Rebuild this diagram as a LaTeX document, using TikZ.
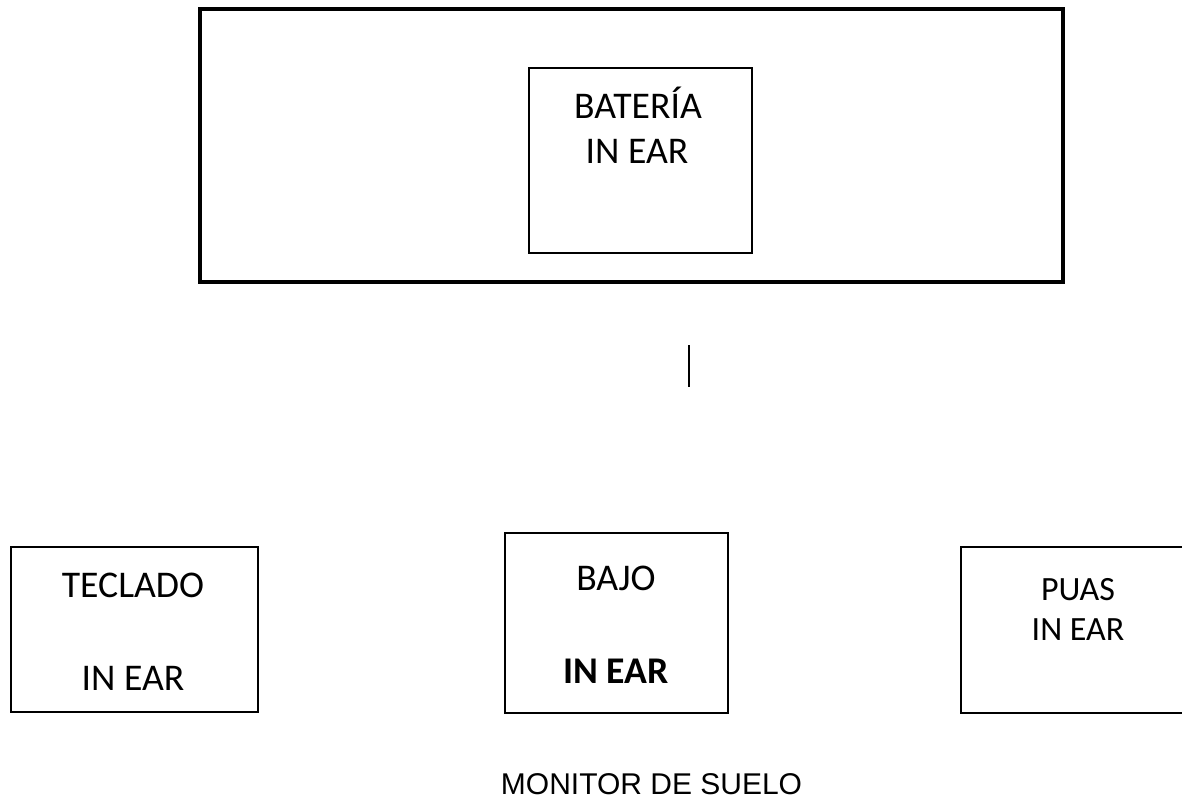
\documentclass[tikz,border=0pt]{standalone}
\usepackage{fontspec}
\setmainfont{Carlito}
\newfontfamily\arialfont{Liberation Sans}
\begin{document}
\begin{tikzpicture}[x=1pt,y=-1pt,
  frame/.style={draw=black,line width=4pt,inner sep=0pt},
  box/.style={draw=black,line width=2pt,inner sep=0pt},
  lbl/.style={anchor=base,inner sep=0pt,font=\fontsize{37.7}{45}\selectfont},
  lblsmall/.style={anchor=base,inner sep=0pt,font=\fontsize{34}{40}\selectfont},
  link/.style={draw=black,line width=2pt}]
\useasboundingbox (0,0) rectangle (1182,803);
\clip (0,0) rectangle (1182,803);
% top frame
\node[frame,minimum width=863pt,minimum height=273pt] (stage) at (631.5,145.5) {};
\node[box,minimum width=223pt,minimum height=185pt] (bateria) at (640.5,160.5) {};
\node[lbl] (bat1) at (638,118) {BATERÍA};
\node[lbl] (bat2) at (637,163) {IN EAR};
% vertical mark
\coordinate (v1) at (689,345);
\coordinate (v2) at (689,387);
\draw[link] (v1) -- (v2);
% bottom boxes
\node[box,minimum width=247pt,minimum height=165pt] (teclado) at (134.5,629.5) {};
\node[lbl] (tec1) at (133,597) {TECLADO};
\node[lbl] (tec2) at (133,690) {IN EAR};
\node[box,minimum width=223pt,minimum height=180pt] (bajo) at (616.5,623) {};
\node[lbl] (baj1) at (616,590) {BAJO};
\node[lbl,font=\fontsize{37.7}{45}\selectfont\bfseries] (baj2) at (616,683) {IN EAR};
\node[box,minimum width=289pt,minimum height=166pt] (puas) at (1105.5,630) {};
\node[lblsmall] (pua1) at (1078,600) {PUAS};
\node[lblsmall] (pua2) at (1078,640) {IN EAR};
% monitor label
\node[anchor=base,inner sep=0pt,font=\arialfont\fontsize{30}{36}\selectfont] (monitor) at (651.5,794) {MONITOR DE SUELO};
\end{tikzpicture}
\end{document}
